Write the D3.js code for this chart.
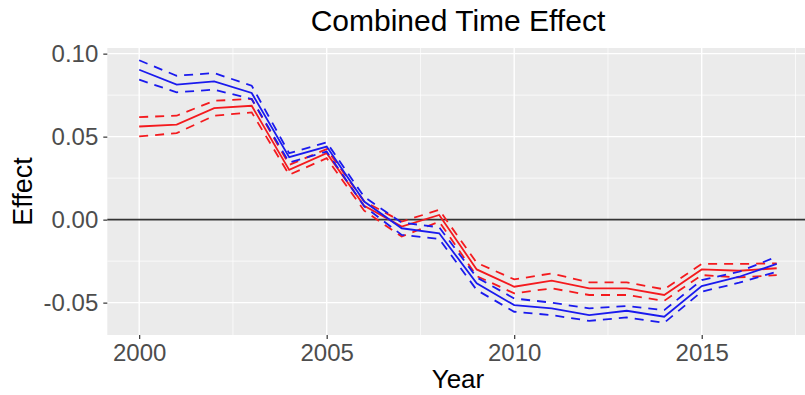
<!DOCTYPE html>
<html><head><meta charset="utf-8">
<script src="https://cdn.jsdelivr.net/npm/d3@7"></script>
<style>body{margin:0;background:#fff;} svg{display:block;font-family:"Liberation Sans",Arial,sans-serif;}</style>
</head><body>
<svg id="chart" width="805" height="395"></svg>
<script>
const years = [2000,2001,2002,2003,2004,2005,2006,2007,2008,2009,2010,2011,2012,2013,2014,2015,2016,2017];
const blueEst   = [0.0903,0.0813,0.0833,0.0763,0.0376,0.0440,0.0109,-0.0052,-0.0082,-0.0384,-0.0515,-0.0535,-0.0575,-0.0549,-0.0585,-0.0400,-0.0344,-0.0267];
const blueUpper = [0.0960,0.0867,0.0883,0.0807,0.0400,0.0465,0.0137,-0.0018,-0.0046,-0.0348,-0.0475,-0.0500,-0.0535,-0.0520,-0.0545,-0.0364,-0.0314,-0.0223];
const blueLower = [0.0843,0.0767,0.0783,0.0727,0.0344,0.0410,0.0080,-0.0092,-0.0116,-0.0424,-0.0555,-0.0575,-0.0610,-0.0589,-0.0621,-0.0434,-0.0380,-0.0314];
const redEst    = [0.0561,0.0572,0.0672,0.0686,0.0300,0.0400,0.0083,-0.0042,0.0028,-0.0300,-0.0404,-0.0368,-0.0414,-0.0414,-0.0454,-0.0300,-0.0308,-0.0293];
const redUpper  = [0.0618,0.0626,0.0716,0.0727,0.0330,0.0425,0.0110,-0.0012,0.0059,-0.0260,-0.0360,-0.0324,-0.0378,-0.0378,-0.0420,-0.0267,-0.0267,-0.0263];
const redLower  = [0.0501,0.0521,0.0626,0.0646,0.0270,0.0370,0.0054,-0.0102,-0.0012,-0.0340,-0.0444,-0.0414,-0.0454,-0.0454,-0.0489,-0.0334,-0.0348,-0.0334];
const xTicks = [2000,2005,2010,2015];
const xMinor = [2002.5,2007.5,2012.5,2017.5];
const yTicks = [0.10,0.05,0.00,-0.05];
const yMinor = [0.075,0.025,-0.025];
const titleText = "Combined Time Effect";
const xTitle = "Year";
const yTitle = "Effect";

const svg = d3.select("#chart");
const L = 107.3, R = 808.6, T = 48, B = 335;
const x = d3.scaleLinear().domain([1999.15, 2017.85]).range([L, R]);
const y = d3.scaleLinear().domain([-0.0695, 0.1034]).range([B, T]);

svg.append("rect").attr("x", L).attr("y", T).attr("width", R - L).attr("height", B - T).attr("fill", "#EBEBEB");

const g = svg.append("g");
g.selectAll(".ymin").data(yMinor).join("line")
  .attr("x1", L).attr("x2", R).attr("y1", d => y(d)).attr("y2", d => y(d))
  .attr("stroke", "#fff").attr("stroke-width", 0.7);
g.selectAll(".xmin").data(xMinor).join("line")
  .attr("y1", T).attr("y2", B).attr("x1", d => x(d)).attr("x2", d => x(d))
  .attr("stroke", "#fff").attr("stroke-width", 0.7);
g.selectAll(".ymaj").data(yTicks).join("line")
  .attr("x1", L).attr("x2", R).attr("y1", d => y(d)).attr("y2", d => y(d))
  .attr("stroke", "#fff").attr("stroke-width", 1.4);
g.selectAll(".xmaj").data(xTicks).join("line")
  .attr("y1", T).attr("y2", B).attr("x1", d => x(d)).attr("x2", d => x(d))
  .attr("stroke", "#fff").attr("stroke-width", 1.4);

// zero line
svg.append("line").attr("x1", L).attr("x2", R).attr("y1", y(0)).attr("y2", y(0))
  .attr("stroke", "#333").attr("stroke-width", 1.7);

const line = d3.line().x((d, i) => x(years[i])).y(d => y(d));
const series = [
  {v: redUpper, c: "#F41A1E", dash: "9,7"},
  {v: redLower, c: "#F41A1E", dash: "9,7"},
  {v: redEst, c: "#F41A1E", dash: null},
  {v: blueUpper, c: "#1A1AEE", dash: "9,7"},
  {v: blueLower, c: "#1A1AEE", dash: "9,7"},
  {v: blueEst, c: "#1A1AEE", dash: null}
];
series.forEach(s => {
  svg.append("path").attr("d", line(s.v)).attr("fill", "none")
    .attr("stroke", s.c).attr("stroke-width", 1.8)
    .attr("stroke-dasharray", s.dash);
});

// axes
const xAxis = d3.axisBottom(x).tickValues(xTicks).tickFormat(d3.format("d")).tickSize(4).tickPadding(5);
const yAxis = d3.axisLeft(y).tickValues(yTicks).tickFormat(d3.format(".2f")).tickSize(4).tickPadding(5);
const gx = svg.append("g").attr("transform", `translate(0,${B})`).call(xAxis);
const gy = svg.append("g").attr("transform", `translate(${L},0)`).call(yAxis);
[gx, gy].forEach(a => {
  a.select(".domain").remove();
  a.selectAll(".tick line").attr("stroke", "#333").attr("stroke-width", 1.2);
  a.selectAll(".tick text").attr("fill", "#4D4D4D").style("font-size", "24px");
});
gy.selectAll(".tick text").text(d => d3.format(".2f")(d).replace("−", "-"));

svg.append("text").attr("x", (L + R) / 2).attr("y", 388).attr("text-anchor", "middle")
  .style("font-size", "26px").attr("fill", "#000").text(xTitle);
svg.append("text").attr("transform", `translate(32,${(T + B) / 2}) rotate(-90)`).attr("text-anchor", "middle")
  .style("font-size", "27px").attr("fill", "#000").text(yTitle);
svg.append("text").attr("x", (L + R) / 2).attr("y", 31).attr("text-anchor", "middle")
  .style("font-size", "30px").attr("fill", "#000").text(titleText);
</script>
</body></html>
